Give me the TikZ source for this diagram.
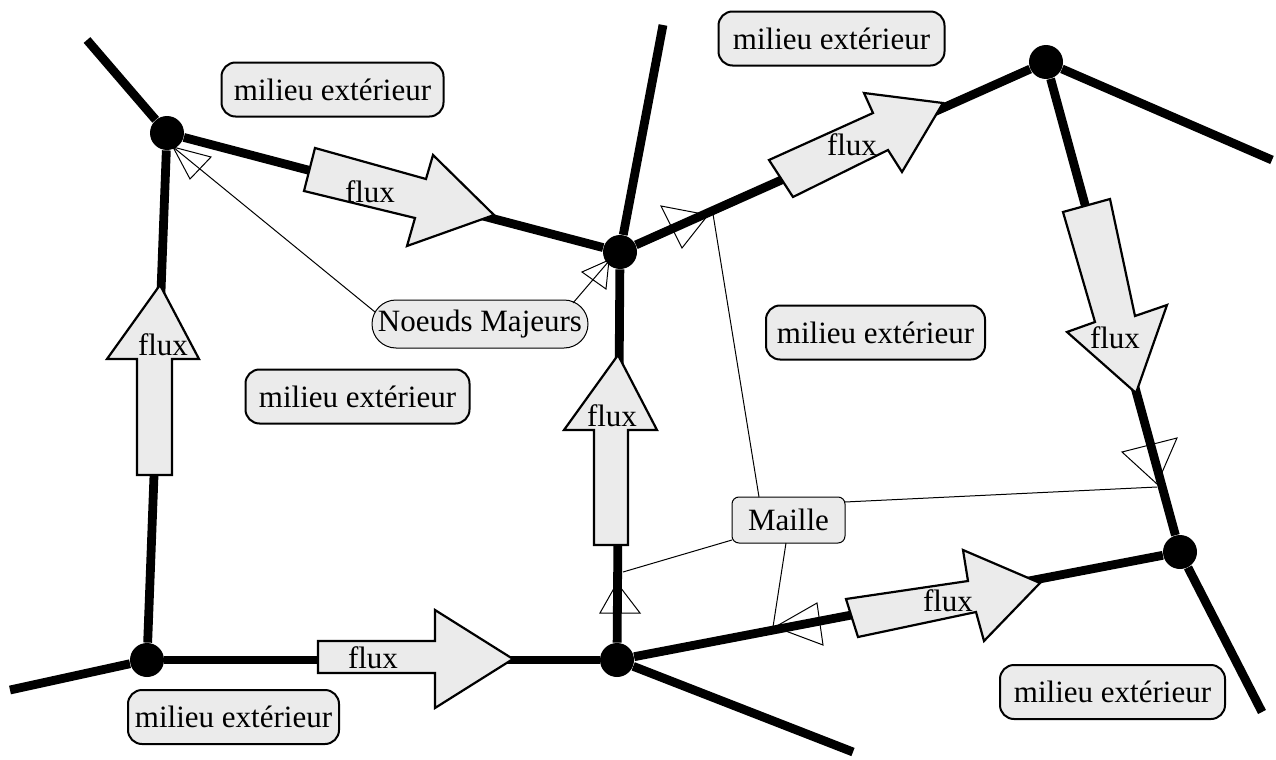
\documentclass[tikz,border=0pt]{standalone}
\usepackage{fontspec}
\setmainfont{Liberation Serif}
\definecolor{boxfill}{RGB}{235,235,235}
\tikzset{
  majornode/.style={circle,fill=black,inner sep=0pt,minimum size=17pt},
  branch/.style={line width=4.4pt},
  fluxarrow/.style={draw=black,line width=1.1pt,fill=boxfill,line join=miter},
  fluxlabel/.style={inner sep=0pt,font=\fontsize{15.5}{18}\selectfont},
  milieu/.style={draw,line width=1pt,fill=boxfill,rounded corners=7pt,minimum width=111pt,minimum height=27pt,inner sep=0pt,font=\fontsize{15.5}{18}\selectfont},
  notebox/.style={draw,line width=0.5pt,fill=boxfill,inner sep=0pt,font=\fontsize{15.5}{18}\selectfont},
  pointer/.style={line width=0.5pt},
  opentip/.style={draw,line width=0.5pt,line join=miter}
}
\begin{document}
\begin{tikzpicture}[x=0.5pt,y=-0.5pt]
\useasboundingbox (0,0) rectangle (1276,760);

% major nodes
\node[majornode] (A) at (167,133) {};
\node[majornode] (B) at (620,252) {};
\node[majornode] (C) at (1046,62) {};
\node[majornode] (D) at (1180,552) {};
\node[majornode] (E) at (147,660) {};
\node[majornode] (F) at (617,660) {};

% free ends
\coordinate (a0) at (87,40);
\coordinate (b0) at (663,25);
\coordinate (c0) at (1272,160);
\coordinate (d0) at (1262,712);
\coordinate (f0) at (853,752);
\coordinate (e0) at (10,690);

% branches
\draw[branch] (A) -- (a0);
\draw[branch] (B) -- (b0);
\draw[branch] (C) -- (c0);
\draw[branch] (D) -- (d0);
\draw[branch] (F) -- (f0);
\draw[branch] (E) -- (e0);
\draw[branch] (A) -- (B);
\draw[branch] (B) -- (C);
\draw[branch] (C) -- (D);
\draw[branch] (D) -- (F);
\draw[branch] (F) -- (E);
\draw[branch] (E) -- (A);
\draw[branch] (B) -- (F);

% flux arrows
\draw[fluxarrow] (315,148) -- (426,179) -- (433,155) -- (494,215) -- (407,246) -- (415,218) -- (304,191) -- cycle;
\draw[fluxarrow] (793,197) -- (888,150) -- (902,172) -- (943,103) -- (864,93) -- (873,113) -- (769,160) -- cycle;
\draw[fluxarrow] (1063,212) -- (1110,199) -- (1135,316) -- (1167,305) -- (1136,393) -- (1067,332) -- (1095,322) -- cycle;
\draw[fluxarrow] (137,475) -- (172,475) -- (172,359) -- (199,359) -- (160,285) -- (107,359) -- (137,359) -- cycle;
\draw[fluxarrow] (594,545) -- (628,545) -- (628,430) -- (657,430) -- (618,355) -- (564,430) -- (594,430) -- cycle;
\draw[fluxarrow] (318,641) -- (435,641) -- (435,610) -- (513,659) -- (435,708) -- (435,673) -- (318,673) -- cycle;
\draw[fluxarrow] (846,599) -- (968,581) -- (963,550) -- (1040,583) -- (984,641) -- (976,612) -- (858,637) -- cycle;

\node[fluxlabel] (fl1) at (370,192) {flux};
\node[fluxlabel] (fl2) at (852,145) {flux};
\node[fluxlabel] (fl3) at (1115,338) {flux};
\node[fluxlabel] (fl4) at (163,345) {flux};
\node[fluxlabel] (fl5) at (612,416) {flux};
\node[fluxlabel] (fl6) at (373,658) {flux};
\node[fluxlabel] (fl7) at (948,601) {flux};

% exterior labels
\node[milieu] (m1) at (332.5,89.5) {milieu extérieur};
\node[milieu,minimum width=113pt] (m2) at (831.5,38.5) {milieu extérieur};
\node[milieu,minimum width=112pt] (m3) at (357.5,396.5) {milieu extérieur};
\node[milieu,minimum width=109.5pt] (m4) at (875.5,332.5) {milieu extérieur};
\node[milieu,minimum width=105.5pt] (m5) at (233.5,717) {milieu extérieur};
\node[milieu,minimum width=112.5pt] (m6) at (1112.5,692) {milieu extérieur};

% notes
\node[notebox,rounded corners=12pt,minimum width=108pt,minimum height=24pt] (NM) at (480,324) {Noeuds Majeurs};
\node[notebox,rounded corners=3.5pt,minimum width=56.5pt,minimum height=23pt] (MA) at (788.5,520) {Maille\hspace{6pt}};

% pointer ends
\coordinate (nmL) at (375,312);
\coordinate (nmR) at (573,303);
\coordinate (tA) at (173,147);
\coordinate (tB) at (609,261);
\coordinate (maT) at (759,497);
\coordinate (maL) at (732,540);
\coordinate (maB) at (786,543);
\coordinate (maR) at (845,502);
\coordinate (tBC) at (713,214);
\coordinate (tFB) at (623,572);
\coordinate (tFD) at (773,627);
\coordinate (tCD) at (1157,487);

\draw[pointer] (nmL) -- (tA);
\draw[pointer] (nmR) -- (tB);
\draw[pointer] (maT) -- (tBC);
\draw[pointer] (maL) -- (tFB);
\draw[pointer] (maB) -- (tFD);
\draw[pointer] (maR) -- (tCD);

% open triangle tips
\draw[opentip] (173,147) -- (211,157) -- (190,179) -- cycle;
\draw[opentip] (609,260) -- (582,272) -- (606,289) -- cycle;
\draw[opentip] (708,215) -- (661,206) -- (682,248) -- cycle;
\draw[opentip] (617,583) -- (600,613) -- (640,613) -- cycle;
\draw[opentip] (775,627) -- (817,603) -- (823,645) -- cycle;
\draw[opentip] (1157,484) -- (1122,452) -- (1177,438) -- cycle;
\end{tikzpicture}
\end{document}
